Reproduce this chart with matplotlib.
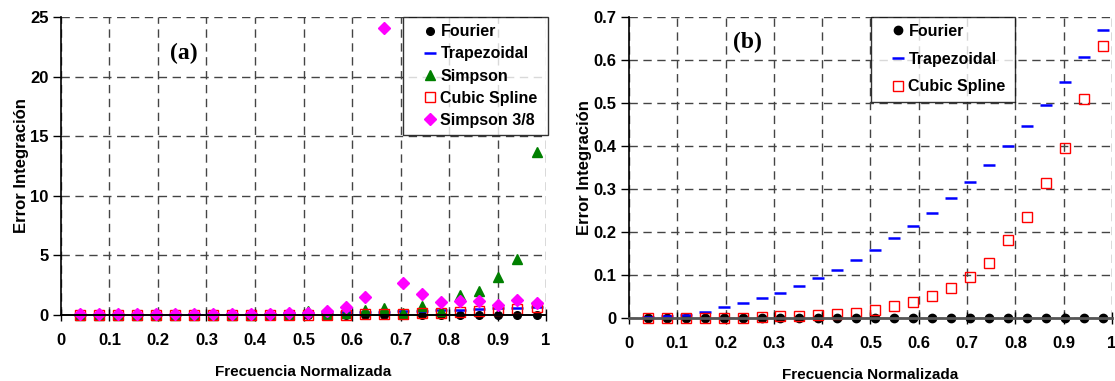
import matplotlib
matplotlib.use("Agg")
import matplotlib.pyplot as plt

# normalised frequency of each test tone
freq = [0.0392, 0.0784, 0.1176, 0.1569, 0.1961, 0.2353, 0.2745, 0.3137, 0.3529,
        0.3922, 0.4314, 0.4706, 0.5098, 0.5490, 0.5882, 0.6275, 0.6667, 0.7059,
        0.7451, 0.7843, 0.8235, 0.8627, 0.9020, 0.9412, 0.9804]

# integration error per method
err_fourier = [0.0, 0.0, 0.0, 0.0, 0.0, 0.0, 0.0, 0.001, 0.001, 0.001, 0.001, 0.001,
               0.001, 0.001, 0.001, 0.001, 0.001, 0.001, 0.001, 0.001, 0.001, 0.001,
               0.001, 0.001, 0.001]
err_trap = [0.002, 0.004, 0.008, 0.015, 0.025, 0.034, 0.046, 0.059, 0.074, 0.093,
            0.112, 0.135, 0.159, 0.185, 0.213, 0.245, 0.279, 0.316, 0.355, 0.399,
            0.445, 0.495, 0.548, 0.607, 0.670]
err_spline = [0.001, 0.001, 0.001, 0.001, 0.001, 0.001, 0.002, 0.004, 0.005, 0.008,
              0.010, 0.012, 0.018, 0.027, 0.037, 0.050, 0.070, 0.096, 0.127, 0.181,
              0.235, 0.314, 0.396, 0.509, 0.633]
err_simpson = [0.02, 0.02, 0.02, 0.02, 0.02, 0.02, 0.03, 0.03, 0.03, 0.04, 0.05, 0.06,
               0.30, 0.10, 0.15, 0.45, 0.60, 0.20, 0.75, 0.30, 1.65, 2.05, 3.15, 4.70,
               13.7]
err_simp38 = [0.10, 0.10, 0.10, 0.10, 0.10, 0.10, 0.10, 0.10, 0.10, 0.12, 0.12, 0.20,
              0.14, 0.37, 0.70, 1.54, 24.1, 2.66, 1.76, 1.06, 1.18, 1.18, 0.80, 1.23,
              0.98]

xticks = [0, 0.1, 0.2, 0.3, 0.4, 0.5, 0.6, 0.7, 0.8, 0.9, 1]
xticklabels = ["0", "0.1", "0.2", "0.3", "0.4", "0.5", "0.6", "0.7", "0.8", "0.9", "1"]

plt.rcParams["font.family"] = ["Liberation Sans", "DejaVu Sans"]
plt.rcParams["font.weight"] = "bold"

fig = plt.figure(figsize=(11.15, 3.81), dpi=100)
ax1 = fig.add_axes([0.0547, 0.1732, 0.435, 0.7822])
ax2 = fig.add_axes([0.5641, 0.1654, 0.4332, 0.7908])


def style(ax, yticks, ylabels):
    ax.set_xlim(0, 1)
    ax.set_xticks(xticks)
    ax.set_xticklabels(xticklabels)
    ax.set_yticks(yticks)
    ax.set_yticklabels(ylabels)
    ax.set_ylim(yticks[0], yticks[-1])
    for s in ["top", "right"]:
        ax.spines[s].set_visible(False)
    ax.spines["left"].set_linewidth(1.2)
    ax.spines["bottom"].set_linewidth(1.4)
    ax.grid(True, color="#444444", linestyle=(0, (6, 4)), linewidth=1.0)
    ax.set_axisbelow(True)
    ax.tick_params(axis="x", direction="inout", length=8, width=1, pad=9,
                   labelsize=12)
    ax.tick_params(axis="y", direction="out", length=6, width=1, pad=3,
                   labelsize=12)
    ax.set_xlabel("Frecuencia Normalizada", fontsize=11, fontweight="bold",
                  labelpad=12.5)
    ax.set_ylabel("Error Integración", fontsize=12, fontweight="bold",
                  labelpad=1)


def legend(ax, x0, spacing):
    leg = ax.legend(loc="upper left", bbox_to_anchor=(x0, 0.0, 0.299, 1.0),
                    mode="expand", fontsize=11.5, frameon=True, fancybox=False,
                    edgecolor="black", handlelength=2.5, handletextpad=-0.6,
                    borderpad=0.45, labelspacing=spacing, borderaxespad=0.0)
    leg.get_frame().set_linewidth(1.0)
    return leg


mk = dict(linestyle="none", clip_on=False)
label_font = ["Liberation Serif", "DejaVu Serif"]

# panel (a): all five methods
ax1.plot(freq, err_fourier, marker="o", ms=5.5, color="black", label="Fourier", **mk)
ax1.plot(freq, err_trap, marker="_", ms=8, mew=1.8, color="#0000ff",
         label="Trapezoidal", **mk)
ax1.plot(freq, err_simpson, marker="^", ms=7, color="#008000", label="Simpson", **mk)
ax1.plot(freq, err_spline, marker="s", ms=6.5, mfc="none", mec="#ff0000", mew=1.0,
         color="#ff0000", label="Cubic Spline", **mk)
ax1.plot(freq, err_simp38, marker="D", ms=6.5, color="#ff00ff", label="Simpson 3/8", **mk)
style(ax1, [0, 5, 10, 15, 20, 25], ["0", "5", "10", "15", "20", "25"])
legend(ax1, 0.705, 0.45)
ax1.text(0.254, 0.879, "(a)", transform=ax1.transAxes, ha="center", va="center",
         fontsize=17, fontweight="bold", family=label_font)

# panel (b): zoom on the three best methods
ax2.plot(freq, err_fourier, marker="o", ms=6, color="black", label="Fourier", **mk)
ax2.plot(freq, err_trap, marker="_", ms=8, mew=1.8, color="#0000ff",
         label="Trapezoidal", **mk)
ax2.plot(freq, err_spline, marker="s", ms=6.5, mfc="none", mec="#ff0000", mew=1.0,
         color="#ff0000", label="Cubic Spline", **mk)
style(ax2, [0, 0.1, 0.2, 0.3, 0.4, 0.5, 0.6, 0.7],
      ["0", "0.1", "0.2", "0.3", "0.4", "0.5", "0.6", "0.7"])
ax2.spines["bottom"].set_color("#555555")
ax2.spines["bottom"].set_linewidth(2)
legend(ax2, 0.501, 0.8)
ax2.text(0.246, 0.914, "(b)", transform=ax2.transAxes, ha="center", va="center",
         fontsize=17, fontweight="bold", family=label_font)

fig.savefig("out.png", dpi=100)
